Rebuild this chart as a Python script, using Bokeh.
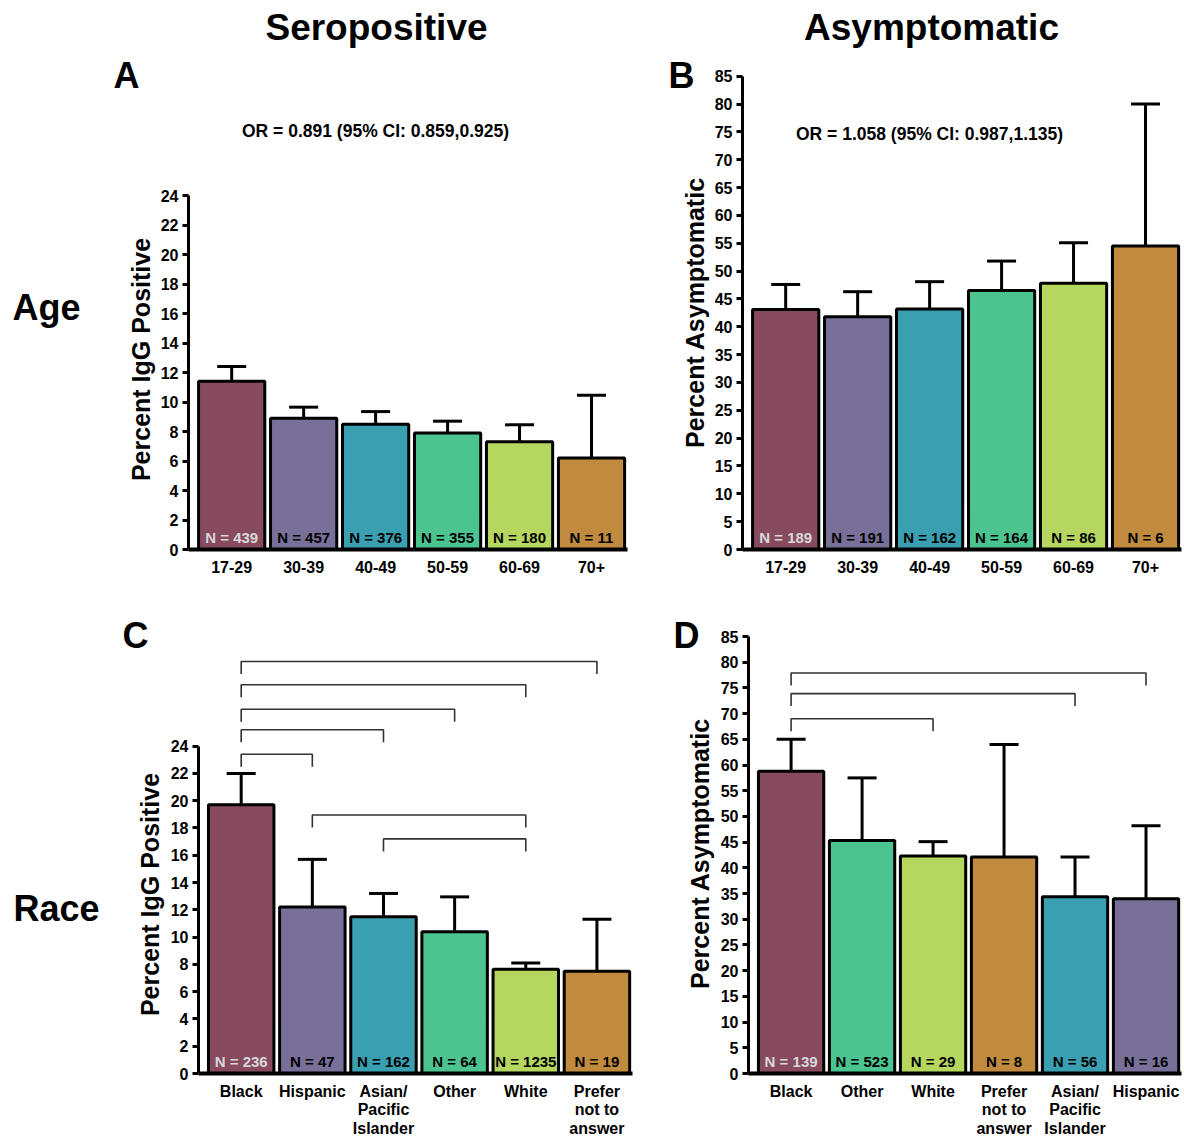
import math
from bokeh.plotting import figure
from bokeh.models import (ColumnDataSource, Range1d, FixedTicker, Whisker, TeeHead, Label, GridBox)
from bokeh.core.properties import value
from bokeh.embed import file_html
from bokeh.resources import INLINE

FONT = "Liberation Sans"

# ---------------- data ----------------
age_groups = ["17-29", "30-39", "40-49", "50-59", "60-69", "70+"]
age_colors = ["#874a5f", "#787099", "#3a9fb1", "#4bc490", "#b5d65f", "#c08a3f"]

sero_age_pct = [11.4, 8.9, 8.5, 7.9, 7.3, 6.2]
sero_age_lo = [10.4, 8.1, 7.7, 7.1, 6.3, 3.3]
sero_age_hi = [12.4, 9.65, 9.35, 8.7, 8.45, 10.45]
sero_age_n = [439, 457, 376, 355, 180, 11]

asym_age_pct = [43.1, 41.8, 43.2, 46.5, 47.8, 54.5]
asym_age_lo = [38.4, 37.3, 38.1, 41.4, 40.4, 26.9]
asym_age_hi = [47.6, 46.3, 48.1, 51.8, 55.1, 80.0]
asym_age_n = [189, 191, 162, 164, 86, 6]

race_colors = {"Black": "#874a5f", "Hispanic": "#787099", "Asian/\nPacific\nIslander": "#3a9fb1",
               "Other": "#4bc490", "White": "#b5d65f", "Prefer\nnot to\nanswer": "#c08a3f"}

sero_race = ["Black", "Hispanic", "Asian/\nPacific\nIslander", "Other", "White", "Prefer\nnot to\nanswer"]
sero_race_pct = [19.7, 12.2, 11.5, 10.4, 7.65, 7.5]
sero_race_lo = [17.5, 9.15, 9.9, 8.15, 7.3, 4.8]
sero_race_hi = [22.0, 15.7, 13.2, 12.95, 8.1, 11.3]
sero_race_n = [236, 47, 162, 64, 1235, 19]
sero_race_brackets = [(0, 5, 30.2), (0, 4, 28.5), (0, 3, 26.7), (0, 2, 25.2), (0, 1, 23.4),
                      (1, 4, 18.95), (2, 4, 17.2)]

asym_race = ["Black", "Other", "White", "Prefer\nnot to\nanswer", "Asian/\nPacific\nIslander", "Hispanic"]
asym_race_pct = [58.8, 45.3, 42.3, 42.1, 34.4, 34.0]
asym_race_lo = [52.5, 33.4, 39.8, 22.3, 27.6, 21.7]
asym_race_hi = [65.0, 57.5, 45.1, 64.0, 42.1, 48.2]
asym_race_n = [139, 523, 29, 8, 56, 16]
asym_race_brackets = [(0, 5, 77.9), (0, 4, 73.9), (0, 2, 69.0)]

sero_ticks = list(range(0, 25, 2))
asym_ticks = list(range(0, 86, 5))

header_texts = ["Seropositive", "Asymptomatic", "A", "B", "C", "D", "Age", "Race",
                "OR = 0.891 (95% CI: 0.859,0.925)", "OR = 1.058 (95% CI: 0.987,1.135)"]
ylabel_texts = ["Percent IgG Positive", "Percent Asymptomatic",
                "Percent IgG Positive", "Percent Asymptomatic"]


def make_panel(cats, colors, pct, lo, hi, ns, ticks,
               canvas, frame, ppu, xstandoff, brackets=None):
    cx, cy, W, H = canvas
    FL, FR, FT, FB = frame
    x0 = -0.6
    x_end = 5.5
    y_end = (FB - FT) / ppu

    p = figure(width=W, height=H, output_backend="svg", toolbar_location=None,
               x_range=Range1d(x0, x_end), y_range=Range1d(0, y_end),
               min_border_left=FL - cx, min_border_right=cx + W - FR,
               min_border_top=FT - cy, min_border_bottom=cy + H - FB)
    p.background_fill_alpha = 0
    p.border_fill_alpha = 0
    p.outline_line_color = None
    p.grid.visible = False

    xs = list(range(len(cats)))
    ncol = ["#d8d8d8"] + ["black"] * (len(cats) - 1)
    src = ColumnDataSource(dict(x=xs, top=pct, lo=lo, hi=hi, color=colors,
                                nlab=["N = %d" % n for n in ns], ncol=ncol))
    p.vbar(x="x", top="top", width=0.92, bottom=0, source=src, fill_color="color",
           line_color="black", line_width=3)
    wh = Whisker(base="x", upper="hi", lower="lo", source=src, line_color="black", line_width=3,
                 upper_head=TeeHead(size=29, line_width=3, line_color="black"),
                 lower_head=TeeHead(size=29, line_width=3, line_color="black"))
    p.add_layout(wh)
    p.text(x="x", y=0, text="nlab", source=src, text_color="ncol",
           text_font=value(FONT), text_font_style="bold", text_font_size="15px",
           text_align="center", text_baseline="alphabetic", y_offset=-12)

    if brackets:
        drop = 12.5 / ppu
        bxs, bys = [], []
        for a, b, h in brackets:
            bxs.append([a, a, b, b])
            bys.append([h - drop, h, h, h - drop])
        p.multi_line(xs=bxs, ys=bys, line_color="#333333", line_width=1.6)

    yax = p.yaxis[0]
    yax.ticker = FixedTicker(ticks=ticks)
    yax.bounds = (0, ticks[-1])
    yax.axis_line_width = 3
    yax.major_tick_line_width = 3
    yax.major_tick_out = 6
    yax.major_tick_in = 0
    yax.minor_tick_line_color = None
    yax.major_label_text_font = FONT
    yax.major_label_text_font_style = "bold"
    yax.major_label_text_font_size = "16px"
    yax.major_label_text_color = "black"
    yax.major_label_standoff = 4

    xax = p.xaxis[0]
    xax.ticker = FixedTicker(ticks=xs)
    xax.major_label_overrides = {i: c for i, c in enumerate(cats)}
    xax.axis_line_width = 4
    xax.major_tick_line_color = None
    xax.minor_tick_line_color = None
    xax.major_tick_out = 0
    xax.major_tick_in = 0
    xax.major_label_standoff = xstandoff
    xax.major_label_text_font = FONT
    xax.major_label_text_font_style = "bold"
    xax.major_label_text_font_size = "16px"
    xax.major_label_text_color = "black"
    xax.major_label_text_line_height = 1.1
    return p


pA = make_panel(age_groups, age_colors, sero_age_pct, sero_age_lo, sero_age_hi, sero_age_n,
                sero_ticks, canvas=(0, 0, 640, 586), frame=(188, 627, 60, 549), ppu=14.75,
                xstandoff=11)

pB = make_panel(age_groups, age_colors, asym_age_pct, asym_age_lo, asym_age_hi, asym_age_n,
                asym_ticks, canvas=(640, 0, 544, 586), frame=(742, 1181, 60, 549), ppu=5.568,
                xstandoff=11)

pC = make_panel(sero_race, [race_colors[c] for c in sero_race], sero_race_pct, sero_race_lo,
                sero_race_hi, sero_race_n, sero_ticks,
                canvas=(0, 586, 640, 554), frame=(198, 632, 640, 1073), ppu=13.64, xstandoff=9,
                brackets=sero_race_brackets)

pD = make_panel(asym_race, [race_colors[c] for c in asym_race], asym_race_pct, asym_race_lo,
                asym_race_hi, asym_race_n, asym_ticks,
                canvas=(640, 586, 544, 554), frame=(748, 1181, 620, 1073), ppu=5.141, xstandoff=9,
                brackets=asym_race_brackets)


def solo(p):
    # wrap each panel so its frame is not aligned with its neighbours'
    return GridBox(children=[(p, 0, 0)])


inner = GridBox(children=[(solo(pA), 0, 0), (solo(pB), 0, 1), (solo(pC), 1, 0), (solo(pD), 1, 1)])

# transparent full-page layer for the headings and axis titles (page pixel coordinates)
bg = figure(width=1184, height=1140, output_backend="svg", toolbar_location=None,
            x_range=Range1d(0, 1184), y_range=Range1d(1140, 0),
            x_axis_location=None, y_axis_location=None, min_border=0)
bg.background_fill_alpha = 0
bg.border_fill_alpha = 0
bg.outline_line_color = None
bg.grid.visible = False

heading_pos = [(376, 27, "37px"), (931, 27, "37px"), (126, 75, "36px"), (681, 75, "36px"),
               (135, 635, "36px"), (686, 635, "36px"), (46, 307, "36px"), (56, 908, "36px"),
               (375, 130, "17.5px"), (929, 133, "17.5px")]
for txt, (hx, hy, size) in zip(header_texts, heading_pos):
    bg.add_layout(Label(x=hx, y=hy, text=txt, text_font=FONT, text_font_style="bold",
                        text_font_size=size, text_align="center", text_baseline="alphabetic",
                        text_color="black"))

ylabel_pos = [(140, 359), (694, 312), (149, 894), (699, 853)]
for txt, (lx, ly) in zip(ylabel_texts, ylabel_pos):
    bg.add_layout(Label(x=lx, y=ly, text=txt, angle=math.pi / 2, text_font=FONT,
                        text_font_style="bold", text_font_size="25px", text_align="center",
                        text_baseline="alphabetic", text_color="black"))

outer = GridBox(children=[(bg, 0, 0), (inner, 0, 0)])
open("out.html", "w").write(file_html(outer, INLINE))
